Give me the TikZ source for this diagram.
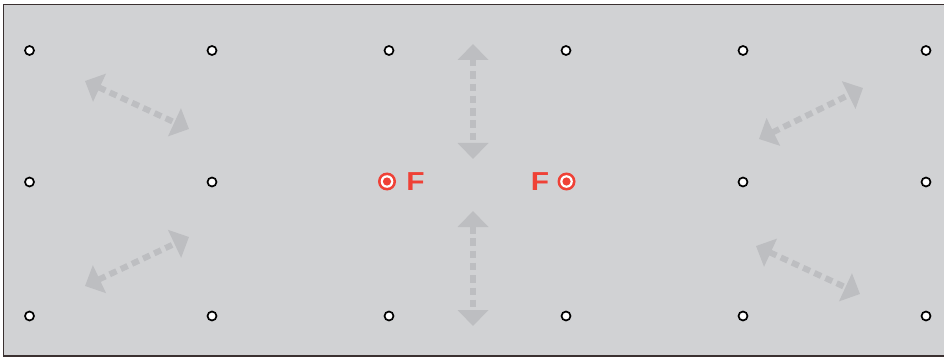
\documentclass[tikz,border=0pt]{standalone}
\usepackage{fontspec}
\setmainfont{Liberation Sans}
\usetikzlibrary{arrows.meta}
\definecolor{bg}{HTML}{D1D2D4}
\definecolor{arr}{HTML}{BDBEC1}
\definecolor{fred}{HTML}{EF4136}
\definecolor{frame}{HTML}{3A3030}
\tikzset{
  pin/.style={circle,draw=black,fill=white,line width=1.7pt,minimum size=9pt,inner sep=0pt},
  dbl/.style={draw=arr,line width=6pt,dash pattern=on 7.5pt off 4.8pt,
    {Triangle[length=16pt,width=30pt,fill=arr]}-{Triangle[length=16pt,width=30pt,fill=arr]}},
  flabel/.style={text=fred,font=\fontsize{26}{26}\selectfont\bfseries,inner sep=0pt,xscale=1.15},
  tgt/.style={circle,fill=fred,minimum size=18pt,inner sep=0pt,path picture={
     \fill[white] (path picture bounding box.center) circle (6.3pt);
     \fill[fred] (path picture bounding box.center) circle (4.1pt);}}
}
\begin{document}
\begin{tikzpicture}[x=1pt,y=-1pt]
\useasboundingbox (0,0) rectangle (944,358);
\fill[bg] (3.5,4.5) rectangle (950,356);
\draw[frame,line width=1.6pt] (950,4.5) -- (3.5,4.5) -- (3.5,356) -- (950,356);
% pins
\foreach \n/\x in {a/29.5,b/212,c/389,d/566,e/743,f/926}{
  \node[pin] (\n1) at (\x,50.5) {};
  \node[pin] (\n3) at (\x,316) {};
}
\node[pin] (a2) at (29.5,182) {};
\node[pin] (b2) at (212,182) {};
\node[pin] (e2) at (743,182) {};
\node[pin] (f2) at (926,182) {};
% arrows
\coordinate (t1s) at (85,81);   \coordinate (t1e) at (189,129);
\coordinate (t2s) at (85,286);  \coordinate (t2e) at (189,237);
\coordinate (t3s) at (473,44);  \coordinate (t3e) at (473,159);
\coordinate (t4s) at (473,211); \coordinate (t4e) at (473,326);
\coordinate (t5s) at (759,139); \coordinate (t5e) at (863,88);
\coordinate (t6s) at (756,246); \coordinate (t6e) at (860,294);
\foreach \i in {1,...,6}{ \draw[dbl] (t\i s) -- (t\i e); }
% foci
\node[tgt] (c2) at (387,181.5) {};
\node[flabel] (fl) at (415.5,182) {F};
\node[tgt] (d2) at (566.5,181.5) {};
\node[flabel] (fr) at (540,182) {F};
\end{tikzpicture}
\end{document}
